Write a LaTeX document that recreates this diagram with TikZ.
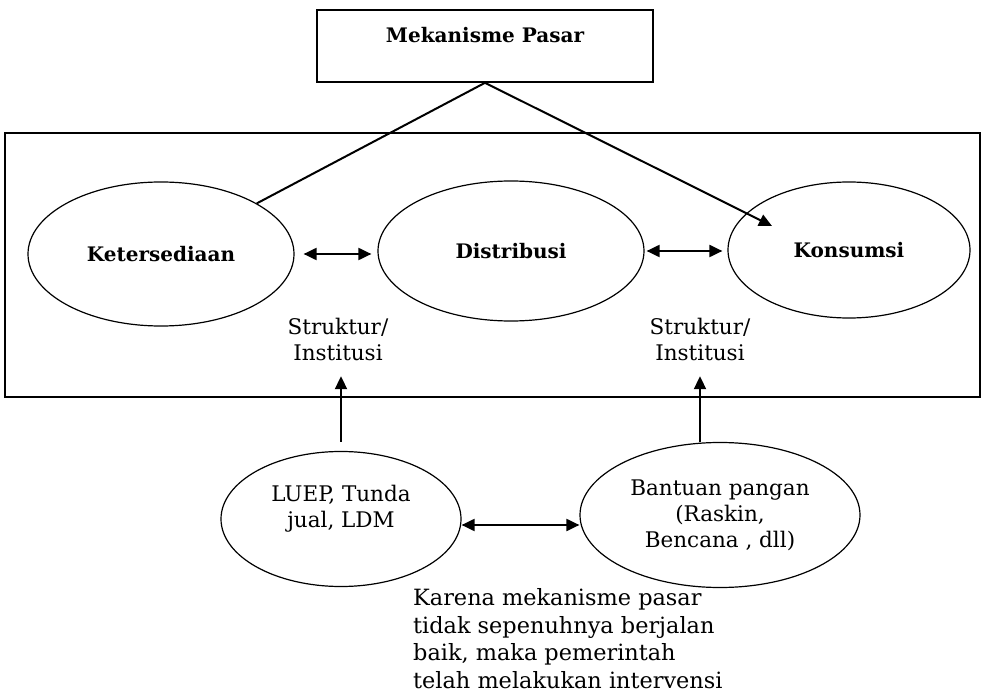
\documentclass[tikz,border=0pt]{standalone}
\usepackage{fontspec}
\setmainfont{DejaVu Serif}
\usetikzlibrary{shapes.geometric,arrows.meta}
\newcommand{\myTwoWay}[4]{
\draw[link, <->, shorten <=#3, shorten >=#4] (#1) -- (#2);
}

\begin{document}
\begin{tikzpicture}[x=1pt, y=-1pt,
	box/.style = {draw, line width=1.6pt},
	oval/.style = {ellipse, draw, line width=1.2pt, inner sep=0pt, align=center},
	bold/.style = {font=\fontsize{20}{22}\selectfont\bfseries},
	small/.style = {font=\fontsize{21.5}{26}\selectfont, align=center},
	link/.style = {line width=2pt, >={Triangle[length=13pt, width=12pt]}}]
	\useasboundingbox (0,0) rectangle (989,695);

	\node[box, minimum width=975pt, minimum height=264pt] (frame) at (492.5,265) {};
	\node[box, bold, align=center, minimum width=336pt, minimum height=72pt] (pasar) at (485,46) {Mekanisme Pasar\\ };

	\node[oval, bold, minimum width=266pt, minimum height=144pt] (ket) at (161,254) {Ketersediaan};
	\node[oval, bold, minimum width=266pt, minimum height=140pt] (dis) at (511,251) {Distribusi};
	\node[oval, bold, minimum width=242pt, minimum height=136pt] (kon) at (849,250) {Konsumsi};
	\coordinate (konIn) at (772,226);

	\node[small, minimum height=74pt] (strukA) at (338,339) {Struktur/\\Institusi};
	\node[small, minimum height=74pt] (strukB) at (700,339) {Struktur/\\Institusi};

	\node[oval, small, minimum width=240pt, minimum height=135pt] (luep) at (341,519) {LUEP, Tunda\\jual, LDM\\ };
	\node[oval, small, minimum width=280pt, minimum height=145pt] (ban) at (720,515) {Bantuan pangan\\(Raskin,\\Bencana , dll)};

	\node[anchor=south west, align=left, inner sep=0pt, font=\fontsize{22.4}{27.5}\selectfont] (note) at (413,689) {Karena mekanisme pasar\\tidak sepenuhnya berjalan\\baik, maka pemerintah\\telah melakukan intervensi};

	\draw[link, ->] (ket) -- (pasar.south) -- (konIn);
	\myTwoWay{ket.east}{ket.east -| dis.west}{9pt}{6pt}
	\myTwoWay{dis.east}{dis.east -| kon.west}{2pt}{5pt}
	\myTwoWay{[yshift=-6pt]luep.east}{[yshift=-10pt]ban.west}{0pt}{0pt}

	\draw[link, <-] (luep.north |- strukA.south) -- ([yshift=9pt]luep.north);
	\draw[link, <-] (strukB.south) -- (strukB.south |- ban.north);
\end{tikzpicture}
\end{document}
